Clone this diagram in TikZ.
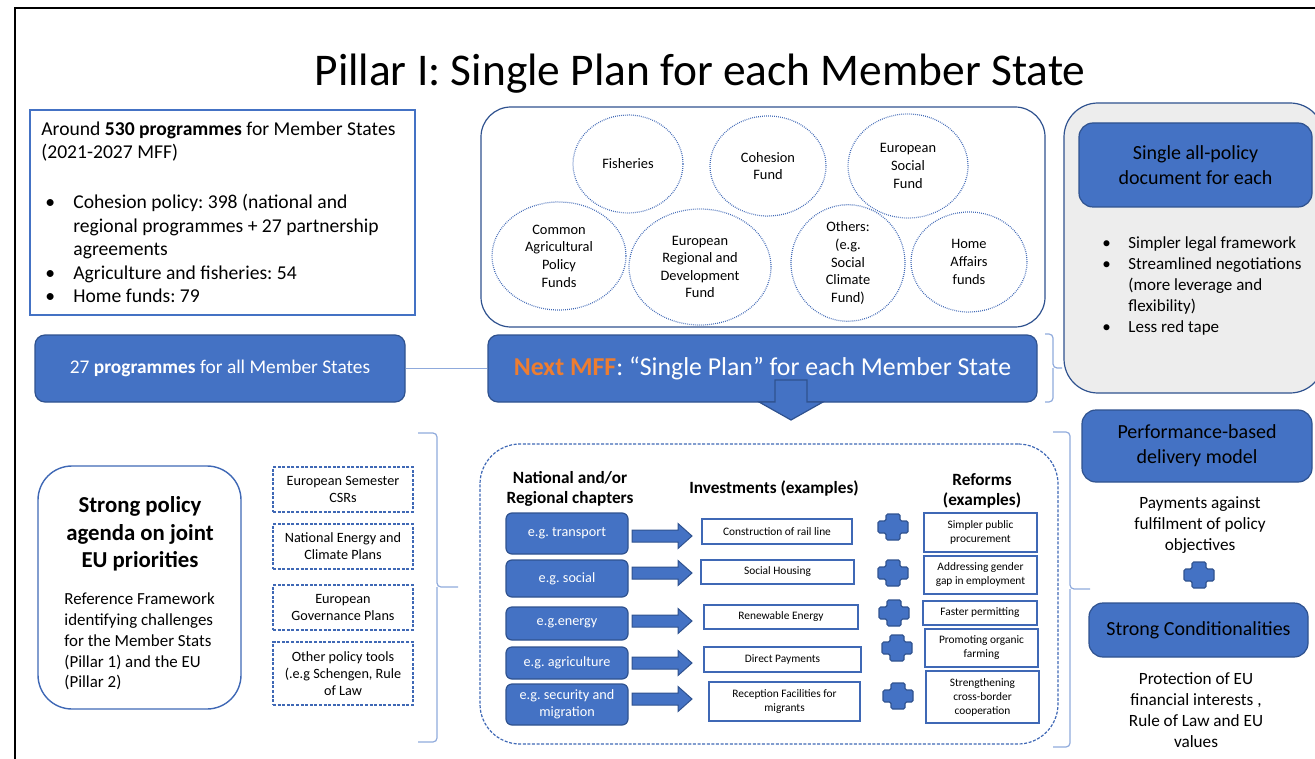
\documentclass[tikz,border=0pt]{standalone}
\usepackage{fontspec}
\setmainfont{Carlito}
\usepackage{tikz}
\usetikzlibrary{shapes.geometric}
\usetikzlibrary{positioning}
\definecolor{mblue}{HTML}{4472C4}
\definecolor{mdark}{HTML}{2F528F}
\definecolor{mline}{HTML}{3F68B5}
\definecolor{mlight}{HTML}{8FAADC}
\definecolor{mgray}{HTML}{EDEDED}
\definecolor{morange}{HTML}{ED7D31}
\frenchspacing
\newcommand{\fs}[2]{\fontsize{#1}{#2}\selectfont}
\newcommand{\mbul}[1]{\makebox[#1][l]{\hspace{2pt}\textbullet}}
\newcommand{\mind}[1]{\hspace*{#1}}
\tikzset{
  bluebox/.style={draw=mdark, fill=mblue, rounded corners=3pt, line width=0.6pt, inner sep=0pt, align=center},
  linebox/.style={draw=mline, fill=white, line width=0.6pt, inner sep=0pt, align=center},
  dashbox/.style={draw=mline, dash pattern=on 1.5pt off 0.8pt, line width=0.6pt, inner sep=0pt, align=center},
  fundcircle/.style={ellipse, draw=mline, dash pattern=on 0.4pt off 0.6pt, line width=0.6pt, inner sep=0pt, align=center, font=\fs{7.2}{8.8}},
  thinline/.style={draw=mlight, line width=0.6pt},
  bracket/.style={draw=mlight, line width=0.6pt, rounded corners=2pt},
  plussign/.pic={
    \draw[fill=mblue, draw=mdark, line width=0.6pt, rounded corners=0.8pt] (-7, -13) -- (7, -13) -- (7, -6) -- (15, -6) -- (15, 6) -- (7, 6) -- (7, 13) -- (-7, 13) -- (-7, 6) -- (-15, 6) -- (-15, -6) -- (-7, -6) -- cycle;
  },
  fatarrow/.pic={
    \draw[fill=mblue, draw=mdark, line width=0.5pt] (0, -6) -- (46, -6) -- (46, -12.5) -- (60, 0) -- (46, 12.5) -- (46, 6) -- (0, 6) -- cycle;
  }
}

\begin{document}
\begin{tikzpicture}[x=0.5pt, y=-0.5pt]
      \path[use as bounding box] (0, 0) rectangle (1315, 759);
      \clip (0, 0) rectangle (1315, 759);
      \draw[line width=1.4pt] (15, 770) -- (15, 8) -- (1325, 8);

      \node[font=\fs{22.7}{27}] (title) at (700, 74) {Pillar I: Single Plan for each Member State};

      \node[draw=mblue, line width=0.6pt, minimum width=192.5pt, minimum height=102.5pt] (mffbox) at (222.5, 212.5) {};
      \node[anchor=west, inner sep=0pt, align=left, font=\fs{9.8}{11.7}] (mfftext) at (41, 212) {Around \textbf{530 programmes} for Member States\\(2021-2027 MFF)\\[13.5pt]
        \mbul{16pt}Cohesion policy: 398 (national and\\\mind{16pt}regional programmes + 27 partnership\\\mind{16pt}agreements\\
        \mbul{16pt}Agriculture and fisheries: 54\\\mbul{16pt}Home funds: 79};

      \node[bluebox, rounded corners=5pt, minimum width=185pt, minimum height=33.5pt, text=white, font=\fs{9.7}{11.7}] (prog) at (220, 368.5) {27 \textbf{programmes} for all Member States};

      \node[draw=mdark, line width=0.6pt, rounded corners=15pt, minimum width=282pt, minimum height=110pt] (funds) at (763, 217) {};
      \node[fundcircle, minimum width=55pt, minimum height=49pt] (fish) at (628, 164) {Fisheries};
      \node[fundcircle, minimum width=58pt, minimum height=50pt] (cohesion) at (768, 166) {Cohesion\\Fund};
      \node[fundcircle, minimum width=60pt, minimum height=52pt] (esf) at (908, 166) {European\\Social\\Fund};
      \node[fundcircle, minimum width=67pt, minimum height=54pt] (cap) at (559, 256) {Common\\Agricultural\\Policy\\Funds};
      \node[fundcircle, minimum width=71pt, minimum height=58pt] (erdf) at (700, 267) {European\\Regional and\\Development\\Fund};
      \node[fundcircle, minimum width=57pt, minimum height=50pt] (others) at (848, 263) {Others:\\(e.g.\\Social\\Climate\\Fund)};
      \node[fundcircle, minimum width=58pt, minimum height=50pt] (home) at (969, 262) {Home\\Affairs\\funds};

      \node[bluebox, rounded corners=5pt, minimum width=274.5pt, minimum height=33.5pt, text=white, font=\fs{12.9}{15}] (nextmff) at (762.5, 368.5) {\textcolor{morange}{\textbf{Next MFF}}: “Single Plan” for each Member State};
      \draw[thinline] (prog.east) -- (nextmff.west);
      \draw[fill=mblue, draw=mdark, line width=0.6pt] (775, 380) -- (807, 380) -- (807, 402) -- (823, 402) -- (791, 420) -- (759, 402) -- (775, 402) -- cycle;
      \draw[bracket] (1045, 334) -- (1053, 334) -- (1053, 368) -- (1062, 368) (1053, 368) -- (1053, 402) -- (1045, 402);

      \node[draw=mdark, fill=mgray, line width=0.6pt, rounded corners=17pt, minimum width=130pt, minimum height=145pt] (graybox) at (1194, 248) {};
      \node[bluebox, rounded corners=7pt, minimum width=116.5pt, minimum height=42pt, font=\fs{10}{12.5}] (single) at (1195.5, 165) {Single all-policy\\document for each};
      \node[anchor=west, inner sep=0pt, align=left, font=\fs{8.5}{10.5}] (benefits) at (1098, 286) {\mbul{15pt}Simpler legal framework\\\mbul{15pt}Streamlined negotiations\\\mind{15pt}(more leverage and\\\mind{15pt}flexibility)\\\mbul{15pt}Less red tape};

      \node[bluebox, rounded corners=7pt, minimum width=115pt, minimum height=36pt, font=\fs{10}{12.5}] (perf) at (1197, 446) {Performance-based\\delivery model};
      \node[align=center, inner sep=0pt, font=\fs{8.6}{10.5}] (payments) at (1200, 525) {Payments against\\fulfilment of policy\\objectives};
      \pic at (1199, 575) {plussign};
      \node[bluebox, rounded corners=7pt, minimum width=109.5pt, minimum height=27pt, font=\fs{10}{12.5}] (cond) at (1198.5, 630) {Strong Conditionalities};
      \node[align=center, inner sep=0pt, font=\fs{8.6}{10.5}] (protect) at (1196, 710) {Protection of EU\\financial interests ,\\Rule of Law and EU\\values};
      \draw[bracket] (1053, 432) -- (1070, 432) -- (1070, 589) -- (1090, 589) (1070, 589) -- (1070, 747) -- (1053, 747);

      \node[draw=mline, line width=0.7pt, rounded corners=17pt, minimum width=101.5pt, minimum height=121.5pt] (policy) at (139.5, 587.5) {};
      \node[align=center, inner sep=0pt, font=\fs{11.4}{13.75}\bfseries] (policytitle) at (140, 534) {Strong policy\\agenda on joint\\EU priorities};
      \node[anchor=west, align=left, inner sep=0pt, font=\fs{8.45}{10.4}] (reference) at (64, 641.5) {Reference Framework\\identifying challenges\\for the Member Stats\\(Pillar 1) and the EU\\(Pillar 2)};

      \node[dashbox, minimum width=70pt, minimum height=22.5pt, font=\fs{7.1}{8.5}] (semester) at (343, 489.5) {European Semester\\CSRs};
      \node[dashbox, minimum width=70pt, minimum height=22.5pt, font=\fs{7.1}{8.5}] (necp) at (343, 546.5) {National Energy and\\Climate Plans};
      \node[dashbox, minimum width=70pt, minimum height=22.5pt, font=\fs{7.1}{8.5}] (governance) at (343, 607.5) {European\\Governance Plans};
      \node[dashbox, minimum width=70pt, minimum height=31.5pt, font=\fs{7.1}{8.5}] (tools) at (343, 673.5) {Other policy tools\\(.e.g Schengen, Rule\\of Law};
      \draw[bracket] (418, 433) -- (437, 433) -- (437, 587) -- (458, 587) (437, 587) -- (437, 742) -- (418, 742);

      \node[dashbox, rounded corners=20pt, minimum width=289pt, minimum height=150pt] (plan) at (769, 594) {};
      \node[align=center, inner sep=0pt, font=\fs{8.6}{10}\bfseries] (chapters) at (570, 489) {National and/or\\Regional chapters};
      \node[align=center, inner sep=0pt, font=\fs{8.6}{10}\bfseries] (investments) at (774, 488) {Investments (examples)};
      \node[align=center, inner sep=0pt, font=\fs{8.6}{10}\bfseries] (reforms) at (982, 491) {Reforms\\(examples)};

      \node[bluebox, minimum width=61pt, minimum height=20.5pt, text=white, font=\fs{7.1}{8.5}] (ch1) at (567, 533.5) {e.g. transport};
      \node[bluebox, minimum width=61pt, minimum height=18.5pt, text=white, font=\fs{7.1}{8.5}] (ch2) at (567, 578.5) {e.g. social};
      \node[bluebox, minimum width=61pt, minimum height=16.5pt, text=white, font=\fs{7.1}{8.5}] (ch3) at (567, 623.5) {e.g.energy};
      \node[bluebox, minimum width=61pt, minimum height=16pt, text=white, font=\fs{7.1}{8.5}] (ch4) at (567, 663) {e.g. agriculture};
      \node[bluebox, minimum width=61pt, minimum height=20.5pt, text=white, font=\fs{7.1}{8.5}] (ch5) at (567, 704.5) {e.g. security and\\migration};

      \pic at (632, 536) {fatarrow};
      \pic at (632, 573) {fatarrow};
      \pic at (632, 621) {fatarrow};
      \pic at (632, 663) {fatarrow};
      \pic at (632, 699) {fatarrow};

      \node[linebox, minimum width=75pt, minimum height=12.5pt, font=\fs{5.7}{7}] (inv1) at (777, 531.5) {Construction of rail line};
      \node[linebox, minimum width=76.5pt, minimum height=12pt, font=\fs{5.7}{7}] (inv2) at (777.5, 572) {Social Housing};
      \node[linebox, minimum width=77pt, minimum height=12pt, font=\fs{5.7}{7}] (inv3) at (781, 617) {Renewable Energy};
      \node[linebox, minimum width=78.5pt, minimum height=12.5pt, font=\fs{5.7}{7}] (inv4) at (782.5, 659.5) {Direct Payments};
      \node[linebox, minimum width=75.5pt, minimum height=19.5pt, font=\fs{5.7}{7}] (inv5) at (784.5, 701.5) {Reception Facilities for\\migrants};

      \pic at (893, 527) {plussign};
      \pic at (893, 573) {plussign};
      \pic at (894, 613) {plussign};
      \pic at (897, 648) {plussign};
      \pic at (898, 696) {plussign};

      \node[linebox, minimum width=56.5pt, minimum height=19.5pt, font=\fs{5.7}{7}] (ref1) at (980.5, 532.5) {Simpler public\\procurement};
      \node[linebox, minimum width=56.5pt, minimum height=19pt, font=\fs{5.7}{7}] (ref2) at (980.5, 575) {Addressing gender\\gap in employment};
      \node[linebox, minimum width=57pt, minimum height=12pt, font=\fs{5.7}{7}] (ref3) at (980, 613) {Faster permitting};
      \node[linebox, minimum width=56.5pt, minimum height=19pt, font=\fs{5.7}{7}] (ref4) at (981.5, 648) {Promoting organic\\farming};
      \node[linebox, minimum width=56.5pt, minimum height=26pt, font=\fs{5.7}{7}] (ref5) at (982.5, 697) {Strengthening\\cross-border\\cooperation};
\end{tikzpicture}
\end{document}
